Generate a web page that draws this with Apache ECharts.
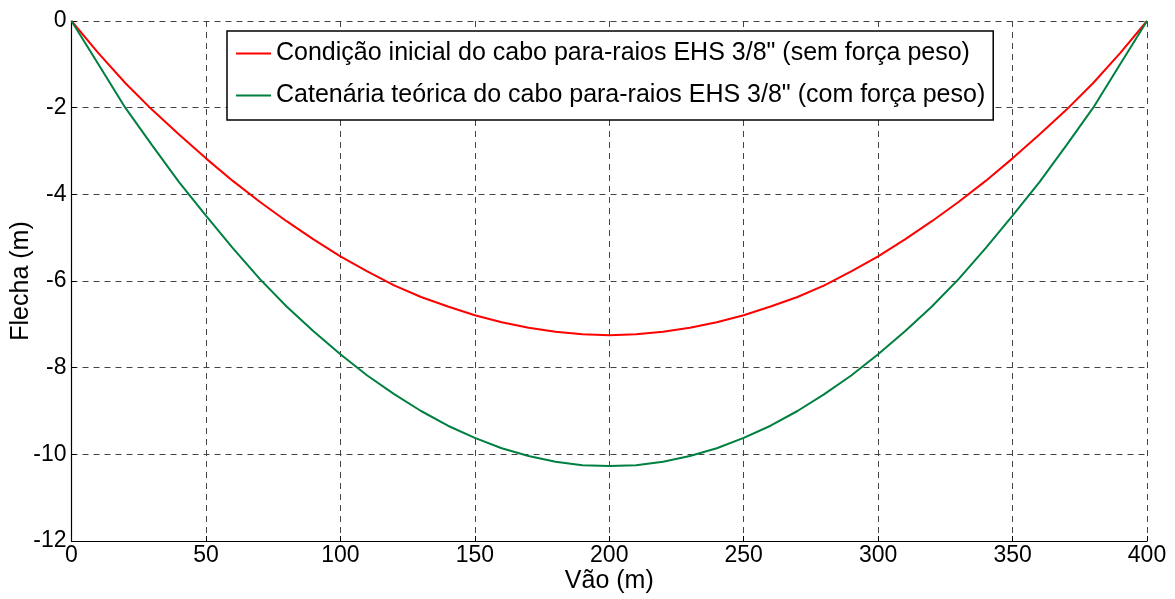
<!DOCTYPE html>
<html>
<head>
<meta charset="utf-8">
<script src="https://cdn.jsdelivr.net/npm/echarts@6/dist/echarts.min.js"></script>
<style>html,body{margin:0;padding:0;background:#fff}#c{width:1175px;height:599px}</style>
</head>
<body>
<div id="c"></div>
<script>
const spanX = [0,10,20,30,40,50,60,70,80,90,100,110,120,130,140,150,160,170,180,190,200,
  210,220,230,240,250,260,270,280,290,300,310,320,330,340,350,360,370,380,390,400];
const redY = [0,-0.74,-1.43,-2.05,-2.62,-3.17,-3.69,-4.17,-4.62,-5.04,-5.43,-5.78,-6.10,-6.37,-6.59,-6.79,-6.95,-7.08,-7.17,-7.23,-7.25,
  -7.23,-7.17,-7.08,-6.95,-6.79,-6.59,-6.37,-6.10,-5.78,-5.43,-5.04,-4.62,-4.17,-3.69,-3.17,-2.62,-2.05,-1.43,-0.74,0];
const greenY = [0,-1.00,-2.00,-2.87,-3.72,-4.49,-5.24,-5.95,-6.59,-7.16,-7.69,-8.18,-8.61,-9.00,-9.34,-9.62,-9.86,-10.04,-10.17,-10.25,-10.27,
  -10.25,-10.17,-10.04,-9.86,-9.62,-9.34,-9.00,-8.61,-8.18,-7.69,-7.16,-6.59,-5.95,-5.24,-4.49,-3.72,-2.87,-2.00,-1.00,0];
const seriesNames = ['Condição inicial do cabo para-raios EHS 3/8" (sem força peso)',
  'Catenária teórica do cabo para-raios EHS 3/8" (com força peso)'];
const xTicks = {min:0, max:400, interval:50};
const yTicks = {min:-12, max:0, interval:2};

const FONT = 'Liberation Sans, Arial, Helvetica, sans-serif';
const chart = echarts.init(document.getElementById('c'), null, {renderer:'canvas'});
const gridLine = {show:true, lineStyle:{color:'#444', type:[6,5], width:1}};
chart.setOption({
  animation:false,
  backgroundColor:'#fff',
  grid:{left:71.5, right:28, top:21, bottom:58, containLabel:false, outerBoundsMode:'none'},
  legend:{
    orient:'vertical', left:227, top:31,
    data:seriesNames,
    itemWidth:35, itemHeight:20, itemGap:17,
    padding:[10,8,12,8],
    borderColor:'#000', borderWidth:1.5, backgroundColor:'#fff',
    textStyle:{fontFamily:FONT, fontSize:25, color:'#000', padding:[0,0,0,0]},
    itemStyle:{opacity:0}
  },
  xAxis:{
    type:'value', min:xTicks.min, max:xTicks.max, interval:xTicks.interval,
    name:'Vão (m)', nameLocation:'middle', nameGap:28, nameMoveOverlap:false,
    nameTextStyle:{fontFamily:FONT, fontSize:25, color:'#000'},
    axisLine:{show:true, onZero:false, lineStyle:{color:'#000', width:1.2}},
    axisTick:{show:true, inside:true, length:5, lineStyle:{color:'#000'}},
    axisLabel:{fontFamily:FONT, fontSize:23, color:'#000', margin:3},
    splitLine:gridLine
  },
  yAxis:{
    type:'value', min:yTicks.min, max:yTicks.max, interval:yTicks.interval,
    name:'Flecha (m)', nameLocation:'middle', nameGap:38, nameRotate:90, nameMoveOverlap:false,
    nameTextStyle:{fontFamily:FONT, fontSize:25, color:'#000'},
    axisLine:{show:true, onZero:false, lineStyle:{color:'#000', width:1.2}},
    axisTick:{show:true, inside:true, length:5, lineStyle:{color:'#000'}},
    axisLabel:{fontFamily:FONT, fontSize:23, color:'#000', margin:5},
    splitLine:gridLine
  },
  series:[
    {name:seriesNames[0], type:'line', symbol:'none', smooth:false,
     lineStyle:{color:'#ff0000', width:2}, itemStyle:{color:'#ff0000'},
     data:spanX.map((x,i)=>[x, redY[i]])},
    {name:seriesNames[1], type:'line', symbol:'none', smooth:false,
     lineStyle:{color:'#008040', width:2}, itemStyle:{color:'#008040'},
     data:spanX.map((x,i)=>[x, greenY[i]])}
  ]
});
</script>
</body>
</html>
